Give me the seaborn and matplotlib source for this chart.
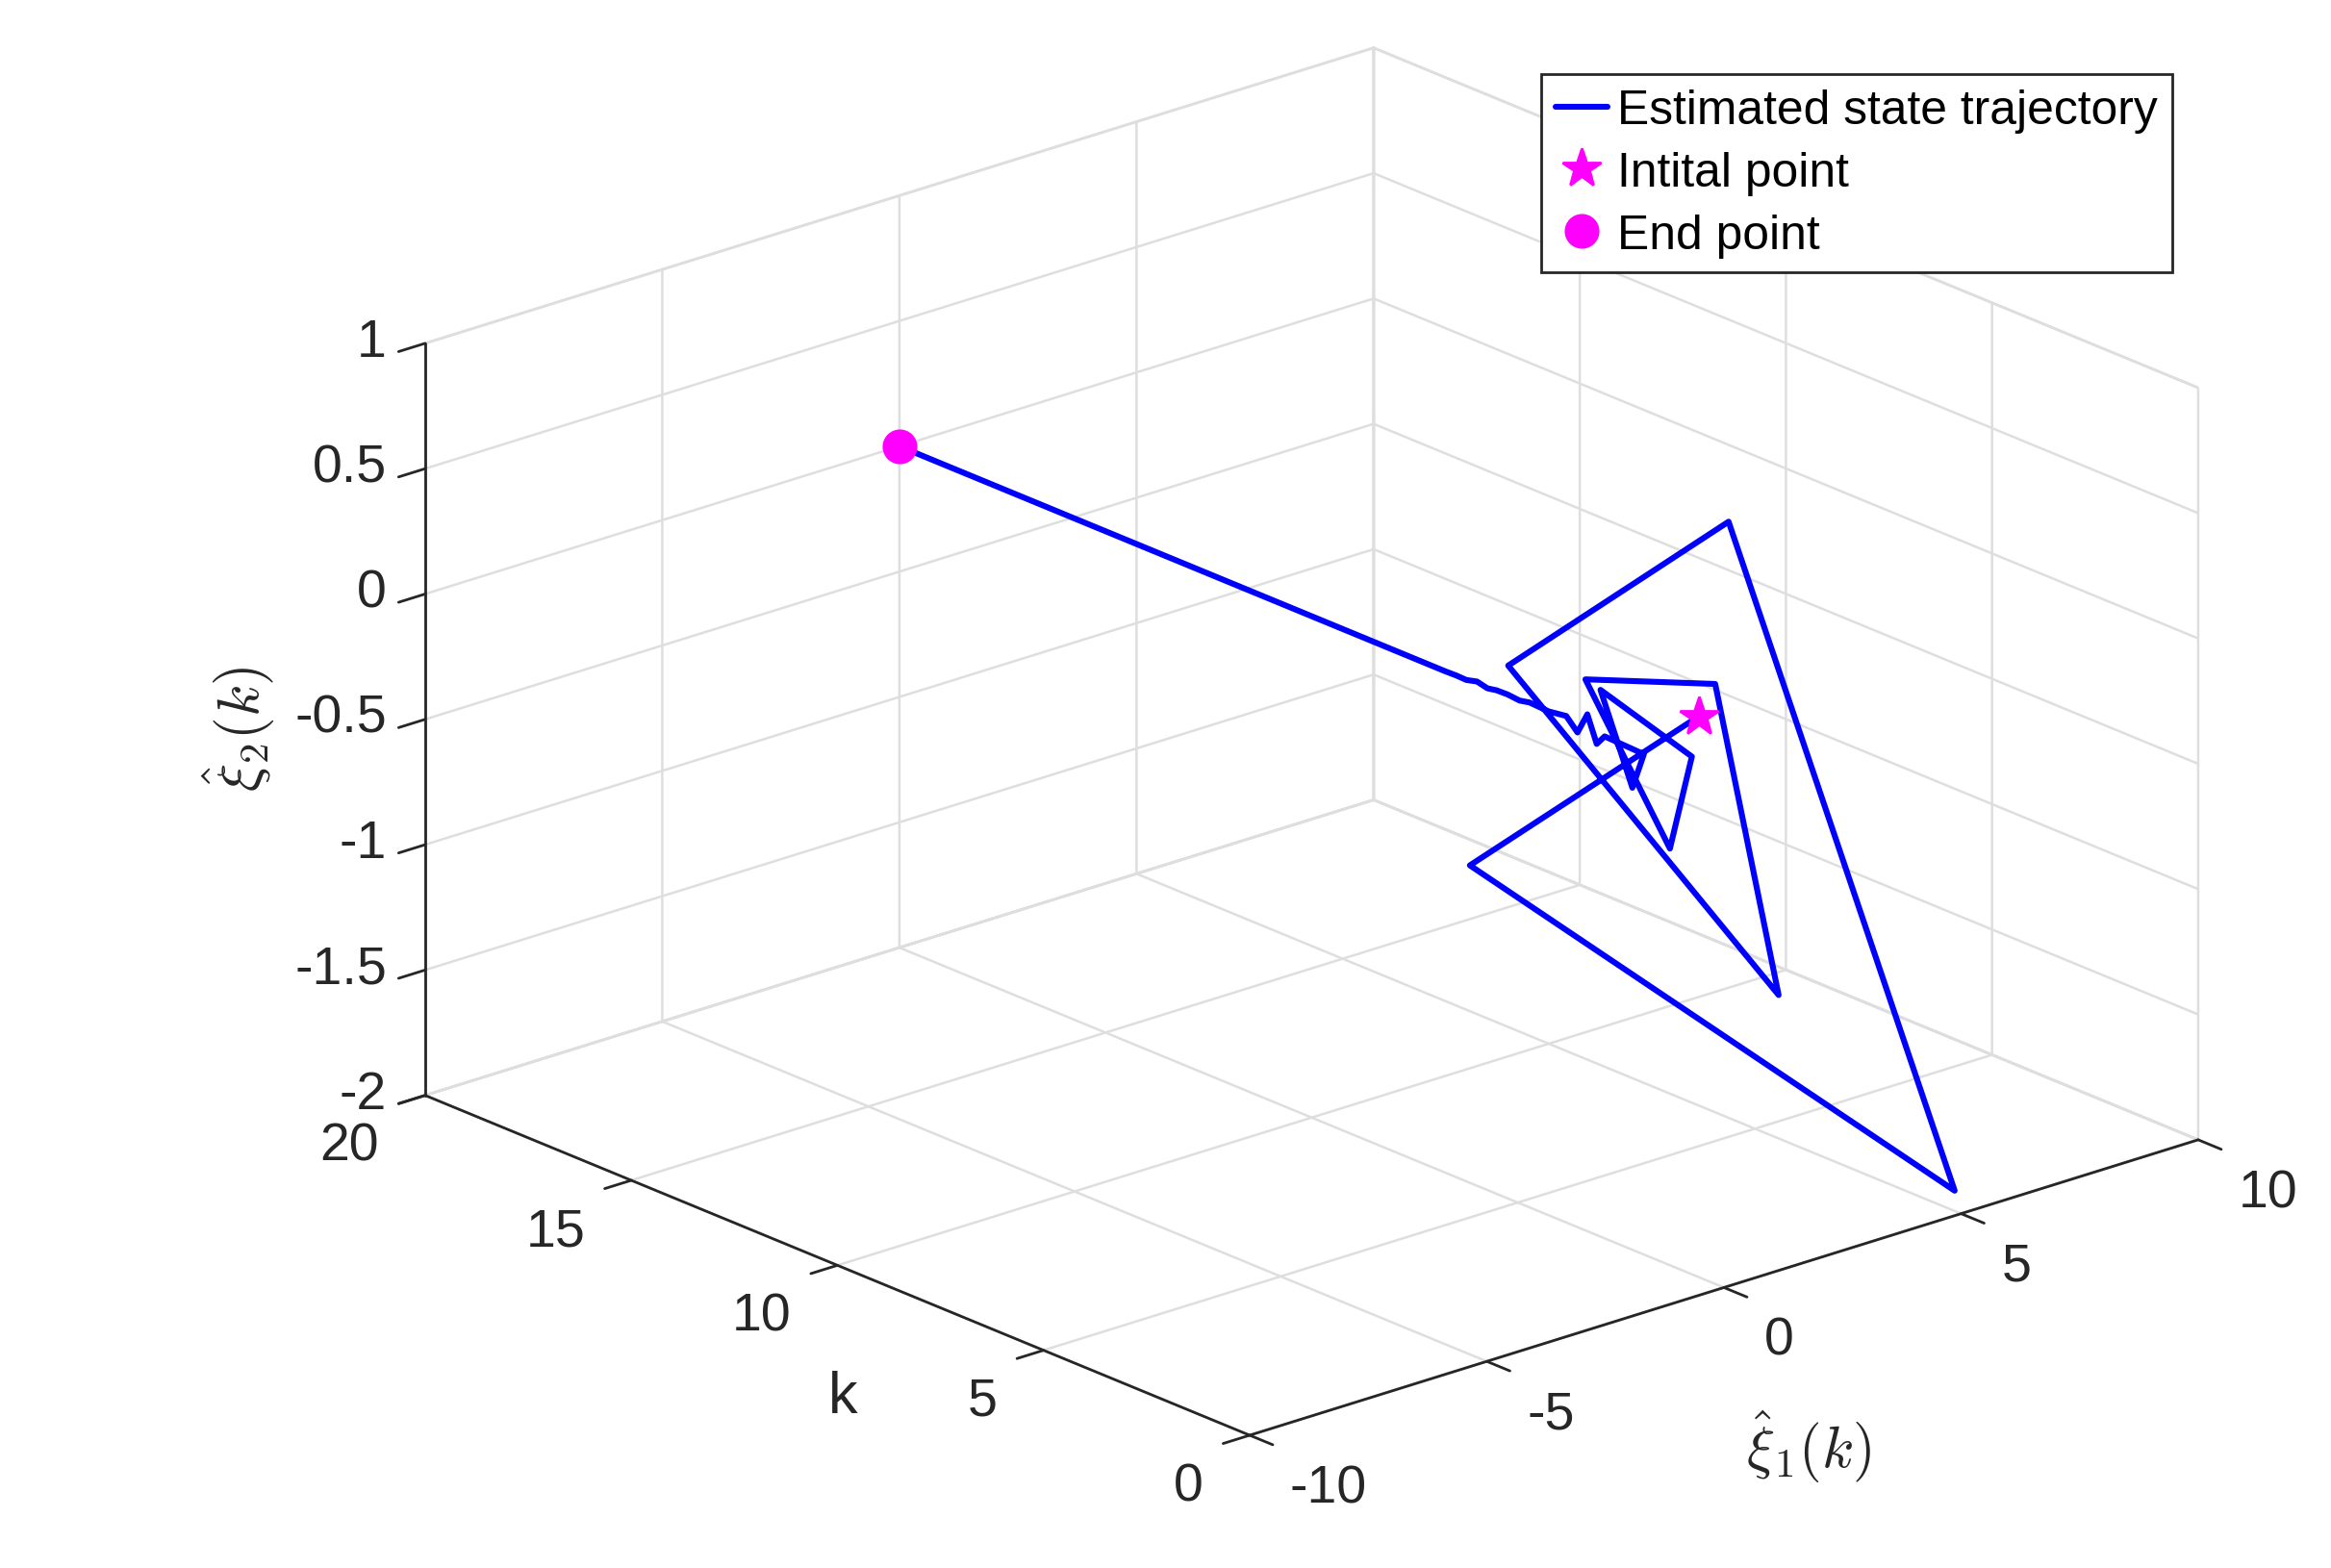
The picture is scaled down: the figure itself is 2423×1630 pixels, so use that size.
import numpy as np
import matplotlib
matplotlib.use('Agg')
import matplotlib.pyplot as plt
import seaborn as sns
from mpl_toolkits.mplot3d import proj3d

# sample index k (step 0.25) and estimated states
k = np.arange(0, 20.25, 0.25)
xi1 = [-0.53, -5.14, 5.30, 0.75, -3.68, 2.24, 1.12, -1.40, 0.60, 1.28,
       -0.43, 0.46, 0.92, 0.31, 0.36, 0.38, 0.39, 0.37, 0.22, 0.03,
       0.04, 0.00, -0.01, 0.01, 0.01, 0.00, 0.01, 0.00, 0.00, 0.00,
       0.00, 0.00, 0.00, 0.00, 0.00, 0.00, 0.00, 0.00, 0.00, 0.00,
       0.00, 0.00, 0.00, 0.00, 0.00, 0.00, 0.00, 0.00, 0.00, 0.00,
       0.00, 0.00, 0.00, 0.00, 0.00, 0.00, 0.00, 0.00, 0.00, 0.00,
       0.00, 0.00, 0.00, 0.00, 0.00, 0.00, 0.00, 0.00, 0.00, 0.00,
       0.00, 0.00, 0.00, 0.00, 0.00, 0.00, 0.00, 0.00, 0.00, 0.00,
       0.00]
xi2 = [0.31, -0.03, -1.96, 0.96, 0.63, -1.05, 0.24, 0.39, -0.42, -0.11,
       0.24, -0.22, -0.13, -0.04, -0.09, 0.01, -0.08, -0.03, -0.02, 0.01,
       0.00, 0.01, 0.01, 0.00, 0.01, 0.00, 0.00, 0.00, 0.00, 0.00,
       0.00, 0.00, 0.00, 0.00, 0.00, 0.00, 0.00, 0.00, 0.00, 0.00,
       0.00, 0.00, 0.00, 0.00, 0.00, 0.00, 0.00, 0.00, 0.00, 0.00,
       0.00, 0.00, 0.00, 0.00, 0.00, 0.00, 0.00, 0.00, 0.00, 0.00,
       0.00, 0.00, 0.00, 0.00, 0.00, 0.00, 0.00, 0.00, 0.00, 0.00,
       0.00, 0.00, 0.00, 0.00, 0.00, 0.00, 0.00, 0.00, 0.00, 0.00,
       0.00]

xi1_ticks = [-10, -5, 0, 5, 10]
k_ticks = [0, 5, 10, 15, 20]
xi2_ticks = [-2, -1.5, -1, -0.5, 0, 0.5, 1]

sns.set_theme(style='white')
plt.rcParams['font.family'] = ['Liberation Sans', 'DejaVu Sans']
plt.rcParams['mathtext.fontset'] = 'cm'

W, H, DPI = 2423, 1631, 200
dark = '#262626'
gridc = '#dedede'

fig = plt.figure(figsize=(W / DPI, H / DPI), dpi=DPI)
ax = fig.add_axes([0, 0, 1, 1], projection='3d')
ax.set_proj_type('ortho')
ax.view_init(elev=21, azim=-131)
ax.set_box_aspect((1, 1, 0.641))
ax.computed_zorder = False
ax.patch.set_visible(False)

ax.plot(xi1, k, xi2, color='blue', lw=2.2, label='Estimated state trajectory', zorder=2)
ax.plot([xi1[0]], [k[0]], [xi2[0]], marker='*', color='magenta', ms=15,
        linestyle='none', label='Intital point', zorder=3)
ax.plot([xi1[-1]], [k[-1]], [xi2[-1]], marker='o', color='magenta', ms=12,
        linestyle='none', label='End point', zorder=3)

ax.set_xlim(-10, 10)
ax.set_ylim(0, 20)
ax.set_zlim(-2, 1)
ax.set_xticks(xi1_ticks)
ax.set_xticklabels([f'{t:g}' for t in xi1_ticks])
ax.set_yticks(k_ticks)
ax.set_yticklabels([f'{t:g}' for t in k_ticks])
ax.set_zticks(xi2_ticks)
ax.set_zticklabels([f'{t:g}' for t in xi2_ticks])

for axis in (ax.xaxis, ax.yaxis, ax.zaxis):
    axis.set_pane_color((1, 1, 1, 1))
    axis.pane.set_edgecolor(gridc)
    axis.line.set_color(dark)
    axis.line.set_linewidth(1.0)
    axis._axinfo['grid'].update(color=gridc, linewidth=0.9)
    axis._axinfo['tick']['inward_factor'] = 0.35
    axis._axinfo['tick']['outward_factor'] = 0.0
    axis._axinfo['tick']['linewidth'] = {True: 1.0, False: 0.5}
    axis._axinfo['tick']['color'] = dark
ax.tick_params(labelsize=20, colors=dark, pad=10)
ax.tick_params(axis='z', pad=0)
plt.setp(ax.get_xticklabels(), ha='left', va='center')
plt.setp(ax.get_yticklabels(), ha='right', va='center')
plt.setp(ax.get_zticklabels(), ha='right', va='center')

# axis labels placed like the MATLAB original
fig.text(876 / W, 1 - 1454 / H, 'k', fontsize=22, color=dark, ha='center', va='center')
fig.text(1880 / W, 1 - 1504 / H, r'$\hat{\xi}_1(k)$', fontsize=22, color=dark,
         ha='center', va='center')
fig.text(248 / W, 1 - 758 / H, r'$\hat{\xi}_2(k)$', fontsize=22, color=dark,
         ha='center', va='center', rotation=90)

# place the box so its corners land where the reference has them
fig.canvas.draw()
bb = ax.get_position()
S0 = bb.width * W
o0 = np.array([bb.x0 * W, bb.y0 * H])


def to_px(x, y, z):
    px, py, _ = proj3d.proj_transform(x, y, z, ax.get_proj())
    return ax.transData.transform((px, py))


f_front = (to_px(-10, 0, -2) - o0) / S0
f_left = (to_px(-10, 20, -2) - o0) / S0
f_right = (to_px(10, 0, -2) - o0) / S0
t_front = np.array([1299, H - 1493])
t_left = np.array([442, H - 1141])
t_right = np.array([2285, H - 1187])
S = (t_right[0] - t_left[0]) / (f_right[0] - f_left[0])
org = t_front - S * f_front
ax.set_position([org[0] / W, org[1] / H, S / W, S / H])

leg = fig.legend(loc='upper right', bbox_to_anchor=(2258 / W, 1 - 78 / H),
                 fontsize=17.9, frameon=True, fancybox=False, framealpha=1,
                 edgecolor=dark, borderaxespad=0, handlelength=1.1,
                 handletextpad=0.2, labelspacing=0.38, borderpad=0.3)
leg.get_frame().set_linewidth(1.0)
for txt in leg.get_texts():
    txt.set_color('black')

fig.savefig('out.png', dpi=DPI)
